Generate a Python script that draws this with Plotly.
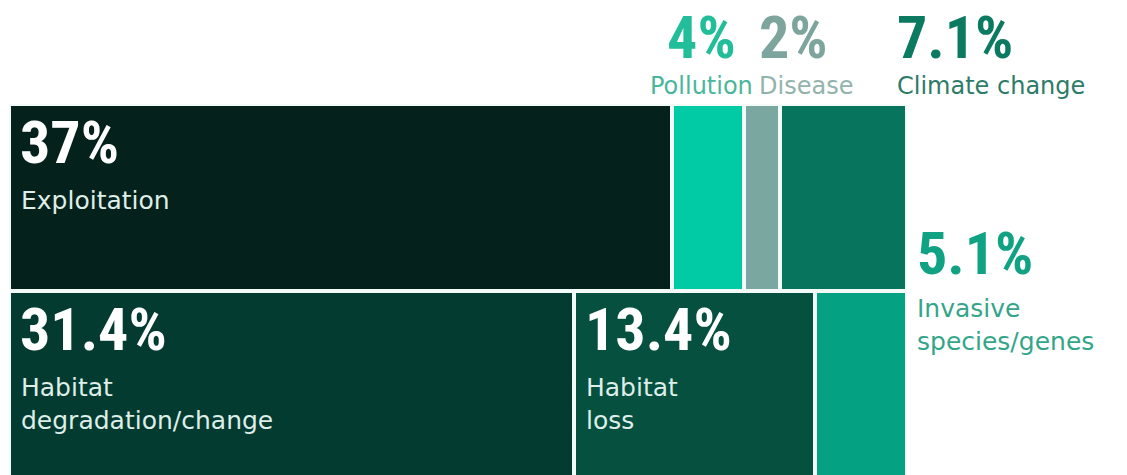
import plotly.graph_objects as go

# Share of threats (percent), laid out as a two-row treemap
threats = ["Exploitation", "Pollution", "Disease", "Climate change",
           "Habitat degradation/change", "Habitat loss", "Invasive species/genes"]
shares = [37, 4, 2, 7.1, 31.4, 13.4, 5.1]
tile_row = [0, 0, 0, 0, 1, 1, 1]
label_text = ["Exploitation", "Pollution", "Disease", "Climate change",
              "Habitat<br>degradation/change", "Habitat<br>loss", "Invasive<br>species/genes"]

tile_colors = ["#04211b", "#00cba5", "#7aa79f", "#07745d",
               "#033b30", "#05503f", "#04a283"]

# label styling for tiles whose text sits outside the tile
outside = {
    "Pollution": dict(side="above", ref="center", xanchor="center", dx=-7,
                      num_color="#22be99", lab_color="#4ab69b"),
    "Disease": dict(side="above", ref="left", xanchor="left", dx=13,
                    num_color="#7da49d", lab_color="#93b3ad"),
    "Climate change": dict(side="above", ref="right", xanchor="left", dx=-12,
                           num_color="#0b7a61", lab_color="#2e7b69"),
    "Invasive species/genes": dict(side="right", ref="right", xanchor="left", dx=8,
                                   num_color="#10a283", lab_color="#35a58a"),
}

NUM_FONT = "'Roboto Condensed', 'Noto Sans Condensed', 'Open Sans Condensed', 'DejaVu Sans Condensed', sans-serif"
LAB_FONT = "DejaVu Sans, Verdana, sans-serif"
NUM_SIZE = 60
LAB_SIZE = 25
TOP_LAB_SIZE = 24
TOP_LINE_SIZE = 28   # sets the line pitch between number and name above the tiles


def num_span(txt, color):
    return (f"<span style=\"font-family:{NUM_FONT};font-size:{NUM_SIZE}px;"
            f"font-weight:bold;color:{color}\">{txt}</span>")


def lab_span(txt, size):
    return f"<span style=\"font-size:{size}px\">{txt}</span>"


# --- tile geometry: each row spans the full width, row height ~ row total
total = sum(shares)
n = len(shares)
x0 = [0.0] * n
x1 = [0.0] * n
y0 = [0.0] * n
y1 = [0.0] * n
top = 1.0
for r in sorted(set(tile_row)):
    idx = [i for i in range(n) if tile_row[i] == r]
    rsum = sum(shares[i] for i in idx)
    h = rsum / total
    left = 0.0
    for i in idx:
        w = shares[i] / rsum
        x0[i], x1[i] = left, left + w
        y0[i], y1[i] = top - h, top
        left += w
    top -= h

fig = go.Figure(go.Bar(
    x=[(a + b) / 2 for a, b in zip(x0, x1)],
    width=[b - a for a, b in zip(x0, x1)],
    base=y0,
    y=[b - a for a, b in zip(y0, y1)],
    marker=dict(color=tile_colors, line=dict(color="#f3fbf9", width=4)),
    hovertext=[f"{t}: {s:g}%" for t, s in zip(threats, shares)],
    hoverinfo="text",
))

annotations = []
for i, name in enumerate(threats):
    num = f"{shares[i]:g}%"
    spec = outside.get(name)
    if spec is None:
        # number and name printed inside the tile, top-left
        annotations.append(dict(
            x=x0[i], y=y1[i], xref="x", yref="y", text=num_span(num, "#ffffff"),
            showarrow=False, xanchor="left", yanchor="top", xshift=9, yshift=-1,
            font=dict(family=LAB_FONT, size=LAB_SIZE)))
        annotations.append(dict(
            x=x0[i], y=y1[i], xref="x", yref="y", text=label_text[i], showarrow=False,
            xanchor="left", yanchor="top", align="left", xshift=10, yshift=-80,
            font=dict(family=LAB_FONT, size=LAB_SIZE, color="#deeee8")))
        continue
    ax = {"left": x0[i], "right": x1[i], "center": (x0[i] + x1[i]) / 2}[spec["ref"]]
    if spec["side"] == "above":
        # number stacked over the name, sitting just above the tile
        annotations.append(dict(
            x=ax, y=y1[i], xref="x", yref="y",
            text=num_span(num, spec["num_color"]) + "<br>" + lab_span(label_text[i], TOP_LAB_SIZE),
            showarrow=False, align="center" if spec["xanchor"] == "center" else "left",
            xanchor=spec["xanchor"], yanchor="bottom", xshift=spec["dx"], yshift=2,
            font=dict(family=LAB_FONT, size=TOP_LINE_SIZE, color=spec["lab_color"])))
    else:
        # number above and name below the row boundary, right of the tile
        ay = y1[i]
        annotations.append(dict(
            x=ax, y=ay, xref="x", yref="y", text=num_span(num, spec["num_color"]),
            showarrow=False, xanchor="left", yanchor="bottom", xshift=spec["dx"], yshift=0,
            font=dict(family=LAB_FONT, size=LAB_SIZE)))
        annotations.append(dict(
            x=ax, y=ay, xref="x", yref="y", text=label_text[i], showarrow=False,
            align="left", xanchor="left", yanchor="top", xshift=spec["dx"], yshift=-1,
            font=dict(family=LAB_FONT, size=LAB_SIZE, color=spec["lab_color"])))

fig.update_layout(
    width=1127, height=475,
    margin=dict(l=9, r=220, t=104, b=0),
    paper_bgcolor="#ffffff", plot_bgcolor="#ffffff",
    barmode="overlay", bargap=0, showlegend=False,
    xaxis=dict(range=[0, 1], visible=False, fixedrange=True),
    yaxis=dict(range=[0.006, 1], visible=False, fixedrange=True),
    annotations=annotations,
)

fig.write_html("out.html")
